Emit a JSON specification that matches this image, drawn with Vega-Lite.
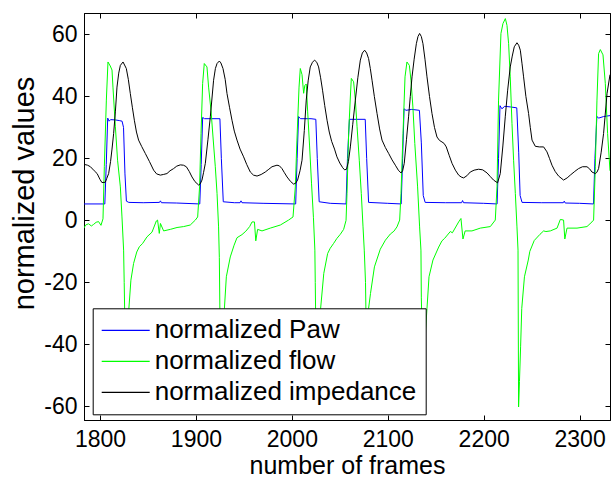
{
"$schema": "https://vega.github.io/schema/vega-lite/v6.json",
"width": 526, "height": 407,
"autosize": {"type": "none"},
"padding": {"left": 84, "top": 13, "right": 1, "bottom": 57},
"background": "white",
"config": {
  "view": {"stroke": "black", "strokeWidth": 1},
  "axis": {"grid": false, "domainColor": "black", "tickColor": "black", "labelColor": "black", "titleColor": "black", "labelFont": "Liberation Sans", "titleFont": "Liberation Sans", "titleFontWeight": "normal", "labelFontSize": 23, "tickSize": -5, "domainWidth": 1, "tickWidth": 1}
},
"datasets": {
"P": [
{"f":1783,"v":5.3},{"f":1805,"v":5.3},{"f":1806.5,"v":18},{"f":1808,"v":33},{"f":1809.5,"v":32},{"f":1811,"v":32.5},{"f":1816,"v":32.4},{"f":1820,"v":32.2},{"f":1823,"v":32},{"f":1824.5,"v":30},{"f":1826,"v":15},{"f":1827.5,"v":6.2},{"f":1830,"v":5.8},{"f":1845,"v":5.7},{"f":1862,"v":5.8},{"f":1863,"v":6.3},{"f":1864,"v":5.7},{"f":1880,"v":5.6},{"f":1904,"v":5.3},{"f":1905.5,"v":18},{"f":1907,"v":33.2},{"f":1909,"v":32.8},{"f":1915,"v":32.8},{"f":1925,"v":32.8},{"f":1926.5,"v":20},{"f":1928.5,"v":6},{"f":1940,"v":5.7},{"f":1946,"v":5.7},{"f":1947,"v":6.3},{"f":1948,"v":5.7},{"f":1970,"v":5.5},{"f":2004,"v":5.3},{"f":2005.5,"v":20},{"f":2007,"v":33.5},{"f":2009,"v":32.8},{"f":2020,"v":32.8},{"f":2025,"v":32.6},{"f":2026.5,"v":20},{"f":2028.5,"v":6},{"f":2040,"v":5.5},{"f":2056.5,"v":5.3},{"f":2058,"v":20},{"f":2060,"v":32.6},{"f":2070,"v":32.6},{"f":2076.5,"v":32.6},{"f":2078,"v":20},{"f":2080,"v":5.8},{"f":2100,"v":5.5},{"f":2114,"v":5.3},{"f":2115.5,"v":20},{"f":2117,"v":36},{"f":2119,"v":35.5},{"f":2125,"v":35.8},{"f":2133,"v":35.5},{"f":2135,"v":25},{"f":2137,"v":8},{"f":2139,"v":5.8},{"f":2160,"v":5.7},{"f":2177,"v":5.7},{"f":2178,"v":6.4},{"f":2179,"v":5.7},{"f":2200,"v":5.5},{"f":2214,"v":5.3},{"f":2215.5,"v":20},{"f":2217,"v":37},{"f":2219,"v":36},{"f":2222,"v":36.8},{"f":2228,"v":36.6},{"f":2234.5,"v":36.3},{"f":2236.5,"v":22},{"f":2238,"v":8},{"f":2240,"v":5.8},{"f":2260,"v":5.7},{"f":2283,"v":5.7},{"f":2284,"v":6.2},{"f":2285,"v":5.6},{"f":2300,"v":5.5},{"f":2314.5,"v":5.3},{"f":2316,"v":20},{"f":2318,"v":33.5},{"f":2320,"v":33},{"f":2325,"v":33.5},{"f":2331.7,"v":33.8}
],
"F": [
{"f":1783,"v":-2.6},{"f":1785,"v":-1.5},{"f":1788,"v":-1.1},{"f":1791,"v":-1.8},{"f":1793.3,"v":-1.3},{"f":1796,"v":-0.6},{"f":1798.5,"v":-0.4},{"f":1801,"v":-1.6},{"f":1803.1,"v":0.5},{"f":1804.5,"v":17.3},{"f":1806.6,"v":38.8},{"f":1808.3,"v":51.1},{"f":1810.7,"v":49.8},{"f":1812.5,"v":48.5},{"f":1813.5,"v":43},{"f":1816,"v":30.2},{"f":1818.3,"v":19.4},{"f":1821.2,"v":10.8},{"f":1822.9,"v":1.1},{"f":1824.6,"v":-9.6},{"f":1825.2,"v":-20},{"f":1826,"v":-35},{"f":1827,"v":-45},{"f":1828.5,"v":-40},{"f":1830.1,"v":-28.4},{"f":1832.2,"v":-19.3},{"f":1835,"v":-13.9},{"f":1838.3,"v":-10.2},{"f":1841,"v":-8.5},{"f":1844.3,"v":-7.5},{"f":1849,"v":-5.3},{"f":1854.2,"v":-3.8},{"f":1858.7,"v":-0.2},{"f":1860,"v":0.1},{"f":1861.8,"v":-4.2},{"f":1863,"v":-1},{"f":1866.3,"v":-3.4},{"f":1873.3,"v":-2.9},{"f":1880.3,"v":-2.3},{"f":1887.2,"v":-2},{"f":1894.1,"v":-1.5},{"f":1899.4,"v":0.1},{"f":1901.8,"v":1.1},{"f":1903.8,"v":10.8},{"f":1905.3,"v":28},{"f":1907,"v":44.2},{"f":1908.7,"v":50.6},{"f":1911.5,"v":49.5},{"f":1913.2,"v":43},{"f":1915.7,"v":35.5},{"f":1917.8,"v":26.9},{"f":1920.2,"v":17.3},{"f":1922,"v":8.7},{"f":1923.6,"v":-2.1},{"f":1924.4,"v":-12},{"f":1925,"v":-30},{"f":1926,"v":-45},{"f":1927.5,"v":-42},{"f":1929.7,"v":-28.4},{"f":1931.7,"v":-18.2},{"f":1935.8,"v":-11.8},{"f":1939.8,"v":-8},{"f":1942.8,"v":-5.6},{"f":1948,"v":-4.6},{"f":1952,"v":-3.5},{"f":1956,"v":-2},{"f":1958.5,"v":-0.5},{"f":1961,"v":-0.5},{"f":1962.4,"v":-6.6},{"f":1964.3,"v":-2.9},{"f":1968.9,"v":-3.4},{"f":1977.5,"v":-2.5},{"f":1988,"v":-1.5},{"f":1996.6,"v":0.1},{"f":2001.2,"v":1.1},{"f":2003.6,"v":10.8},{"f":2005.3,"v":25.9},{"f":2007.5,"v":43},{"f":2008.8,"v":49},{"f":2010.6,"v":47},{"f":2012.3,"v":41},{"f":2013.5,"v":43.5},{"f":2015,"v":44},{"f":2016.5,"v":35},{"f":2018.5,"v":24},{"f":2020.5,"v":12},{"f":2022.5,"v":1},{"f":2024,"v":-9.6},{"f":2024.4,"v":-20},{"f":2025,"v":-35},{"f":2026.5,"v":-45},{"f":2028,"v":-40},{"f":2030,"v":-28.4},{"f":2033.3,"v":-17.1},{"f":2037.3,"v":-10.7},{"f":2040,"v":-9},{"f":2043.4,"v":-7.5},{"f":2047,"v":-5.8},{"f":2050.5,"v":-4.5},{"f":2054,"v":-2.9},{"f":2056.5,"v":0},{"f":2057.5,"v":8.7},{"f":2059.2,"v":28},{"f":2061,"v":39.8},{"f":2062,"v":45.8},{"f":2064.4,"v":44.7},{"f":2066.2,"v":38.8},{"f":2068,"v":30.2},{"f":2070.3,"v":19.4},{"f":2072.4,"v":8.7},{"f":2074.2,"v":-2.1},{"f":2075.5,"v":-9.6},{"f":2076.8,"v":-20},{"f":2077.5,"v":-35},{"f":2078.5,"v":-44},{"f":2079.2,"v":-38},{"f":2080,"v":-28.4},{"f":2082,"v":-23.6},{"f":2086.1,"v":-15},{"f":2092.2,"v":-9.3},{"f":2097.5,"v":-6.4},{"f":2102.7,"v":-4.4},{"f":2106.4,"v":-3.5},{"f":2109.6,"v":-2.1},{"f":2112.4,"v":0.1},{"f":2113.8,"v":8.7},{"f":2115.9,"v":28},{"f":2118,"v":46.3},{"f":2120,"v":51.1},{"f":2122.5,"v":50},{"f":2124.2,"v":45.2},{"f":2126.2,"v":36.6},{"f":2128.2,"v":24.8},{"f":2131.1,"v":10.8},{"f":2133.2,"v":-2.1},{"f":2134.6,"v":-9.6},{"f":2135,"v":-25},{"f":2136.2,"v":-42},{"f":2137.5,"v":-51.5},{"f":2138.5,"v":-45},{"f":2139.5,"v":-35},{"f":2140.9,"v":-28.4},{"f":2143,"v":-18.2},{"f":2147.1,"v":-12.8},{"f":2153.1,"v":-8.6},{"f":2156.5,"v":-6.6},{"f":2159.3,"v":-5.8},{"f":2165.2,"v":-3.6},{"f":2167.4,"v":-4},{"f":2173.9,"v":-0.5},{"f":2176.3,"v":0.6},{"f":2178.4,"v":-6},{"f":2180.7,"v":-3.4},{"f":2187.8,"v":-3.4},{"f":2196.5,"v":-2.5},{"f":2206.9,"v":-2},{"f":2212.1,"v":0.1},{"f":2213.9,"v":10.8},{"f":2215.5,"v":38.8},{"f":2218,"v":60.3},{"f":2220.1,"v":63.5},{"f":2222.6,"v":65.1},{"f":2224.3,"v":62.9},{"f":2226,"v":57},{"f":2227.7,"v":46.3},{"f":2229.5,"v":31.3},{"f":2231.2,"v":19.4},{"f":2233,"v":8.7},{"f":2234.7,"v":-2.1},{"f":2235.8,"v":-9.6},{"f":2236.4,"v":-60.2},{"f":2237.3,"v":-52},{"f":2238.5,"v":-40.8},{"f":2239.7,"v":-28.4},{"f":2242.5,"v":-18.2},{"f":2246.5,"v":-12.8},{"f":2248.1,"v":-10},{"f":2252.7,"v":-6.5},{"f":2258.7,"v":-4.5},{"f":2262.5,"v":-3.4},{"f":2264.9,"v":-3.6},{"f":2269.5,"v":-3.4},{"f":2276.5,"v":-2.5},{"f":2279.9,"v":0.3},{"f":2283.3,"v":0.1},{"f":2284.6,"v":-6},{"f":2286.9,"v":-2.5},{"f":2297.3,"v":-2.5},{"f":2307.7,"v":-2},{"f":2312.9,"v":-0.5},{"f":2314.6,"v":0.1},{"f":2316.4,"v":17.3},{"f":2318.1,"v":38.8},{"f":2319.8,"v":53.8},{"f":2321.6,"v":55.1},{"f":2324.4,"v":53.4},{"f":2326.8,"v":44.2},{"f":2329.2,"v":28},{"f":2331.7,"v":16}
],
"I": [
{"f":1783,"v":18.1},{"f":1787,"v":17.8},{"f":1790,"v":17.3},{"f":1794,"v":16},{"f":1797,"v":15.1},{"f":1800,"v":13.2},{"f":1802,"v":12.2},{"f":1805.5,"v":12.3},{"f":1807,"v":13.5},{"f":1809,"v":15.1},{"f":1811,"v":19},{"f":1812.5,"v":23},{"f":1814.2,"v":28},{"f":1816,"v":35},{"f":1817.7,"v":43},{"f":1819.5,"v":47.5},{"f":1821.2,"v":50},{"f":1824,"v":51.1},{"f":1827.4,"v":49},{"f":1829.5,"v":45.5},{"f":1831.6,"v":40.9},{"f":1833.7,"v":36.5},{"f":1835.8,"v":32.3},{"f":1838,"v":28.5},{"f":1840.2,"v":25.9},{"f":1843.5,"v":23.8},{"f":1847.2,"v":21.6},{"f":1851.5,"v":19},{"f":1855.9,"v":16.2},{"f":1859,"v":15},{"f":1862.9,"v":14.6},{"f":1866,"v":14.8},{"f":1869.8,"v":15.1},{"f":1873,"v":16},{"f":1876.7,"v":16.7},{"f":1880,"v":17.5},{"f":1883.7,"v":17.9},{"f":1887,"v":17.8},{"f":1890,"v":17.3},{"f":1893,"v":15.8},{"f":1895.9,"v":14},{"f":1899,"v":12.5},{"f":1902.8,"v":11.4},{"f":1904.5,"v":11.8},{"f":1906.3,"v":13},{"f":1908,"v":15.5},{"f":1909.8,"v":18.4},{"f":1912.5,"v":26},{"f":1915,"v":33.4},{"f":1918.4,"v":45.2},{"f":1920.3,"v":49},{"f":1922,"v":50.6},{"f":1924.4,"v":51.4},{"f":1926,"v":50.8},{"f":1928.2,"v":49},{"f":1930.5,"v":45.5},{"f":1932.4,"v":40.9},{"f":1935,"v":36.5},{"f":1937.6,"v":32.3},{"f":1940,"v":28.8},{"f":1942.8,"v":25.9},{"f":1946,"v":23},{"f":1949.7,"v":20.5},{"f":1953,"v":18},{"f":1956.7,"v":15.6},{"f":1960,"v":14.6},{"f":1963.7,"v":14.3},{"f":1968,"v":14.8},{"f":1972.3,"v":15.6},{"f":1976,"v":16.5},{"f":1979.3,"v":17.3},{"f":1984.5,"v":17.8},{"f":1987,"v":17.6},{"f":1989.7,"v":16.7},{"f":1992,"v":15.5},{"f":1995,"v":14},{"f":1998.5,"v":12.6},{"f":2001.8,"v":11.7},{"f":2004,"v":12},{"f":2006,"v":13},{"f":2008.5,"v":16},{"f":2010.6,"v":19.4},{"f":2013,"v":29},{"f":2015,"v":38.8},{"f":2017,"v":45},{"f":2019.2,"v":49.5},{"f":2021.5,"v":51},{"f":2023.7,"v":51.7},{"f":2026,"v":51},{"f":2027.9,"v":49.5},{"f":2030,"v":46},{"f":2032,"v":42},{"f":2034.3,"v":37},{"f":2036.7,"v":32.3},{"f":2039,"v":28.5},{"f":2041.5,"v":25.5},{"f":2044.5,"v":23},{"f":2047,"v":20.5},{"f":2050,"v":18.5},{"f":2053,"v":17},{"f":2055,"v":16.3},{"f":2057,"v":16.5},{"f":2059,"v":19},{"f":2061,"v":23.7},{"f":2063.5,"v":31},{"f":2066.2,"v":38.8},{"f":2068.8,"v":46},{"f":2071.4,"v":51.7},{"f":2073.5,"v":54},{"f":2075.9,"v":54.9},{"f":2078,"v":54},{"f":2080,"v":52.2},{"f":2081.8,"v":49},{"f":2083.6,"v":45.2},{"f":2086,"v":40},{"f":2088.8,"v":34.5},{"f":2091.5,"v":29.5},{"f":2094,"v":25.9},{"f":2097.5,"v":23.5},{"f":2100.9,"v":21.6},{"f":2104.5,"v":19.5},{"f":2107.9,"v":17.8},{"f":2111,"v":16.2},{"f":2113.8,"v":15.3},{"f":2115.5,"v":16},{"f":2117.2,"v":18.4},{"f":2119.5,"v":26},{"f":2121.7,"v":33.4},{"f":2123.5,"v":40},{"f":2125.3,"v":46.3},{"f":2127.5,"v":52},{"f":2129.8,"v":57},{"f":2131.5,"v":59.3},{"f":2133.2,"v":60.3},{"f":2135,"v":59.3},{"f":2136.7,"v":57},{"f":2138.8,"v":52},{"f":2140.9,"v":46.3},{"f":2143.5,"v":40},{"f":2146.1,"v":34.5},{"f":2148.7,"v":30},{"f":2151.3,"v":26.9},{"f":2153.9,"v":25.8},{"f":2156.5,"v":25.3},{"f":2158.8,"v":24.8},{"f":2161,"v":23.7},{"f":2164,"v":21},{"f":2167,"v":18.4},{"f":2170.5,"v":16.2},{"f":2173.9,"v":14.6},{"f":2176.5,"v":14},{"f":2179.1,"v":13.7},{"f":2182.5,"v":14.4},{"f":2186,"v":15.6},{"f":2190,"v":16.2},{"f":2194.7,"v":16.5},{"f":2199,"v":16.3},{"f":2203.5,"v":15.3},{"f":2207,"v":14.1},{"f":2210.3,"v":13},{"f":2214.5,"v":12.1},{"f":2217.3,"v":15.1},{"f":2220,"v":24},{"f":2222.5,"v":33.4},{"f":2225,"v":42},{"f":2227.7,"v":49.5},{"f":2229.8,"v":53},{"f":2231.9,"v":56},{"f":2234.7,"v":57.3},{"f":2236.5,"v":56.5},{"f":2238.2,"v":54.9},{"f":2240,"v":50.5},{"f":2241.6,"v":46.3},{"f":2244,"v":40},{"f":2246.8,"v":34.5},{"f":2248.6,"v":30},{"f":2250.4,"v":25.9},{"f":2253.8,"v":23.9},{"f":2258,"v":23.7},{"f":2262.5,"v":23.7},{"f":2266,"v":22.1},{"f":2268.6,"v":20},{"f":2271.2,"v":17.8},{"f":2274.5,"v":15.8},{"f":2278.1,"v":14.3},{"f":2283.3,"v":13},{"f":2287,"v":13.7},{"f":2290.3,"v":14.6},{"f":2295,"v":15.8},{"f":2298.9,"v":16.7},{"f":2303,"v":17.3},{"f":2307.7,"v":17.3},{"f":2310.5,"v":16.6},{"f":2312.9,"v":15.6},{"f":2316.4,"v":15.1},{"f":2318,"v":15.5},{"f":2319.8,"v":16.7},{"f":2322.5,"v":22},{"f":2325,"v":28},{"f":2328.6,"v":40.9},{"f":2331.7,"v":47}
]
},
"layer": [
  {
    "data": {"name": "P"},
    "mark": {"type": "line", "strokeWidth": 1, "clip": true},
    "encoding": {
      "x": {"field": "f", "type": "quantitative", "scale": {"domain": [1783.3, 2331.7], "nice": false, "zero": false},
            "axis": {"orient": "bottom", "values": [1800,1900,2000,2100,2200,2300], "labelExpr": "'' + datum.value", "title": "number of frames", "titleFontSize": 25, "titleBaseline": "alphabetic", "titleY": 53, "labelPadding": 13, "labelFlush": false}},
      "y": {"field": "v", "type": "quantitative", "scale": {"domain": [-64.4, 66.9], "nice": false, "zero": false},
            "axis": {"orient": "left", "values": [-60,-40,-20,0,20,40,60], "labelExpr": "'' + datum.value", "title": "normalized values", "titleFontSize": 29, "titleBaseline": "alphabetic", "titleX": -51, "titleY": 180, "labelPadding": 12, "labelFlush": false}},
      "color": {"datum": "normalized Paw", "type": "nominal",
        "scale": {"domain": ["normalized Paw", "normalized flow", "normalized impedance"], "range": ["#0000ff", "#00ff00", "#000000"]},
        "legend": {"orient": "none", "legendX": 8.7, "legendY": 295.3, "title": null, "fillColor": "white", "strokeColor": "black", "padding": 9, "symbolType": "M-4,0H4", "symbolSize": 144, "symbolOffset": 11, "symbolStrokeWidth": 1.2, "labelFont": "Liberation Sans", "labelFontSize": 26, "labelColor": "black", "labelOffset": 16, "labelLimit": 0, "rowPadding": 5}}
    }
  },
  {
    "data": {"name": "F"},
    "mark": {"type": "line", "strokeWidth": 1, "clip": true},
    "encoding": {
      "x": {"field": "f", "type": "quantitative", "axis": null},
      "y": {"field": "v", "type": "quantitative", "axis": null},
      "color": {"datum": "normalized flow", "type": "nominal"}
    }
  },
  {
    "data": {"name": "I"},
    "mark": {"type": "line", "strokeWidth": 1, "clip": true},
    "encoding": {
      "x": {"field": "f", "type": "quantitative", "axis": null},
      "y": {"field": "v", "type": "quantitative", "axis": null},
      "color": {"datum": "normalized impedance", "type": "nominal"}
    }
  },
  {
    "data": {"name": "I"},
    "mark": {"type": "line", "strokeOpacity": 0, "clip": true},
    "encoding": {
      "x": {"field": "f", "type": "quantitative", "axis": {"orient": "top", "values": [1800,1900,2000,2100,2200,2300], "labels": false, "title": null}},
      "y": {"field": "v", "type": "quantitative", "axis": {"orient": "right", "values": [-60,-40,-20,0,20,40,60], "labels": false, "title": null}}
    }
  }
],
"resolve": {"axis": {"x": "independent", "y": "independent"}}
}
